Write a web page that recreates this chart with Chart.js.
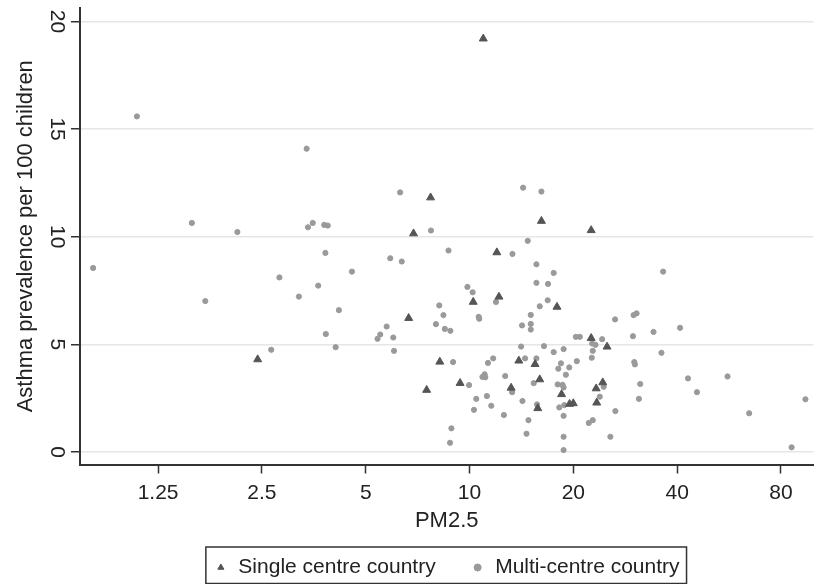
<!DOCTYPE html>
<html>
<head>
<meta charset="utf-8">
<style>
  html, body { margin: 0; padding: 0; background: #fff; overflow: hidden; }
  #wrap { position: relative; width: 819px; height: 588px; }
</style>
</head>
<body>
  <div id="wrap"><canvas id="chart"></canvas></div>

<script src="https://cdn.jsdelivr.net/npm/chart.js@4.4.0/dist/chart.umd.min.js"></script>

<script>
  // PM2.5 (x) and asthma prevalence per 100 children (y)
  const singleX = [2.43, 10.96, 7.71, 16.16, 6.88, 22.53, 6.66, 12.00, 10.25, 12.17,
    8.20, 7.51, 9.39, 13.90, 15.49, 15.98, 13.20, 15.77, 17.93, 22.53,
    25.05, 18.49, 19.50, 19.99, 24.34, 23.29, 23.38]
  const singleY = [4.30, 19.20, 11.82, 10.73, 10.15, 10.30, 6.22, 9.27, 6.97, 7.21,
    4.19, 2.88, 3.20, 4.24, 4.08, 3.37, 2.98, 2.03, 6.74, 5.29,
    4.89, 2.68, 2.23, 2.26, 3.23, 2.95, 2.29]

  const multiX = [1.085, 1.566, 2.122, 0.810, 1.713, 2.66, 2.81, 3.37, 6.29, 14.30,
    16.16, 3.40, 3.51, 3.79, 3.88, 7.73, 14.75, 3.82, 3.64, 3.20,
    4.56, 4.18, 3.83, 4.09, 5.89, 6.36, 5.75, 5.51, 5.41, 6.01,
    6.04, 8.69, 13.32, 15.63, 15.63, 9.86, 10.21, 11.93, 8.17, 8.40,
    7.99, 8.48, 8.80, 10.63, 10.67, 15.98, 15.05, 14.20, 15.05, 15.05,
    14.11, 16.44, 8.96, 9.97, 11.31, 11.71, 11.06, 11.11, 10.90, 12.69,
    14.49, 15.63, 15.35, 13.29, 10.46, 11.23, 10.30, 11.56, 12.58, 14.24,
    14.82, 14.63, 15.69, 8.86, 8.78, 17.54, 16.89, 16.85, 36.43, 26.43,
    29.90, 30.51, 34.16, 40.78, 29.78, 36.02, 20.34, 20.88, 24.24, 22.68,
    23.18, 22.77, 22.62, 17.54, 18.74, 20.47, 18.41, 18.09, 19.46, 19.03,
    18.01, 18.61, 18.74, 18.21, 18.83, 18.74, 18.74, 18.74, 30.04, 30.17,
    24.49, 23.86, 26.48, 22.17, 22.77, 25.61, 31.26, 30.99, 43.0, 45.66,
    56.0, 64.7, 94.2, 85.9]
  const multiY = [15.59, 10.64, 10.22, 8.55, 7.01, 4.75, 8.11, 14.09, 12.06, 12.28,
    12.10, 10.44, 10.64, 10.55, 10.52, 10.29, 9.81, 9.25, 7.73, 7.22,
    8.38, 6.59, 5.48, 4.87, 9.00, 8.85, 5.83, 5.46, 5.26, 5.32,
    4.70, 9.36, 9.20, 8.72, 7.86, 7.67, 7.42, 6.97, 6.81, 6.36,
    5.94, 5.72, 5.63, 6.28, 6.19, 6.77, 6.37, 5.88, 5.95, 5.69,
    4.90, 4.92, 4.18, 3.11, 4.14, 4.35, 3.61, 3.47, 3.49, 3.53,
    4.35, 4.35, 3.20, 2.78, 2.47, 2.60, 1.96, 2.15, 1.72, 2.37,
    1.48, 0.85, 2.21, 1.10, 0.43, 8.32, 7.81, 7.05, 8.38, 6.16,
    6.36, 6.44, 5.58, 5.77, 5.38, 4.61, 5.35, 5.35, 5.24, 5.04,
    4.98, 4.70, 4.38, 4.64, 4.78, 4.22, 4.12, 3.87, 3.93, 3.59,
    3.14, 3.12, 3.00, 2.07, 2.18, 1.68, 0.71, 0.09, 4.18, 4.07,
    3.03, 2.57, 1.90, 1.35, 1.48, 0.71, 3.16, 2.47, 3.42, 2.78,
    3.51, 1.80, 2.45, 0.22]

  const xTicks = [1.25, 2.5, 5, 10, 20, 40, 80]
  const yTicks = [0, 5, 10, 15, 20]

  const toPoints = (xs, ys) => xs.map((x, i) => ({ x: x, y: ys[i] }))

  // Stata-style frame round the legend
  const legendFrame = {
    id: 'legendFrame',
    afterDraw(chart) {
      const lg = chart.legend
      const hb = lg && lg.legendHitBoxes
      if (!hb || !hb.length) return
      const last = hb[hb.length - 1]
      const x0 = hb[0].left - 8
      const x1 = last.left + last.width + 7
      const y0 = lg.top + 25
      const y1 = lg.top + 61.5
      const ctx = chart.ctx
      ctx.save()
      ctx.strokeStyle = '#333'
      ctx.lineWidth = 1.5
      ctx.strokeRect(x0, y0, x1 - x0, y1 - y0)
      ctx.restore()
    }
  }

  Chart.defaults.font.family = "'Liberation Sans', Arial, sans-serif"
  Chart.defaults.color = '#222'

  new Chart(document.getElementById('chart'), {
    type: 'scatter',
    data: {
      datasets: [{
        label: 'Single centre country',
        data: toPoints(singleX, singleY),
        pointStyle: 'triangle',
        pointRadius: 4.6,
        backgroundColor: '#555',
        borderColor: '#555',
        borderWidth: 1
      }, {
        label: 'Multi-centre country',
        data: toPoints(multiX, multiY),
        pointStyle: 'circle',
        pointRadius: 2.6,
        backgroundColor: '#9a9a9a',
        borderColor: '#9a9a9a',
        borderWidth: 1
      }]
    },
    options: {
      responsive: true,
      maintainAspectRatio: false,
      animation: false,
      layout: { padding: { top: 8, right: 2, left: 0, bottom: 0 } },
      plugins: {
        tooltip: { enabled: false },
        legend: {
          position: 'bottom',
          fullSize: false,
          labels: {
            usePointStyle: true,
            boxWidth: 14,
            boxHeight: 5,
            padding: 35,
            color: '#222',
            font: { size: 21 }
          }
        }
      },
      scales: {
        x: {
          type: 'logarithmic',
          position: 'bottom',
          min: 0.742,
          max: 99.35,
          bounds: 'data',
          afterBuildTicks: s => { s.ticks = xTicks.map(v => ({ value: v })) },
          afterFit: s => { s.height = 57.5; s.paddingLeft = 0; s.paddingRight = 0 },
          ticks: {
            autoSkip: false, maxRotation: 0, minRotation: 0, padding: 7,
            color: '#222', font: { size: 21 },
            callback: v => String(v)
          },
          grid: { drawOnChartArea: false, tickLength: 9, tickColor: '#333', tickWidth: 1.5 },
          border: { color: '#333', width: 2 },
          title: {
            display: true, text: 'PM2.5', color: '#222', font: { size: 22 },
            padding: { top: 0, bottom: -11.7 }
          }
        },
        y: {
          min: -0.58,
          max: 20.626,
          bounds: 'data',
          afterBuildTicks: s => { s.ticks = yTicks.map(v => ({ value: v })) },
          afterFit: s => { s.width = 80; s.paddingTop = 0; s.paddingBottom = 0 },
          ticks: {
            minRotation: -90, maxRotation: -90, crossAlign: 'center', padding: 2.5,
            color: '#222', font: { size: 21 },
            callback: v => String(v)
          },
          grid: { color: '#e6e6e6', lineWidth: 1.5, tickLength: 9, tickColor: '#333', tickWidth: 1.5 },
          border: { color: '#333', width: 2 },
          title: {
            display: true, text: 'Asthma prevalence per 100 children', color: '#222',
            font: { size: 22 }, padding: { top: 13, bottom: 0 }
          }
        }
      }
    },
    plugins: [legendFrame]
  })
</script>
</body>
</html>
